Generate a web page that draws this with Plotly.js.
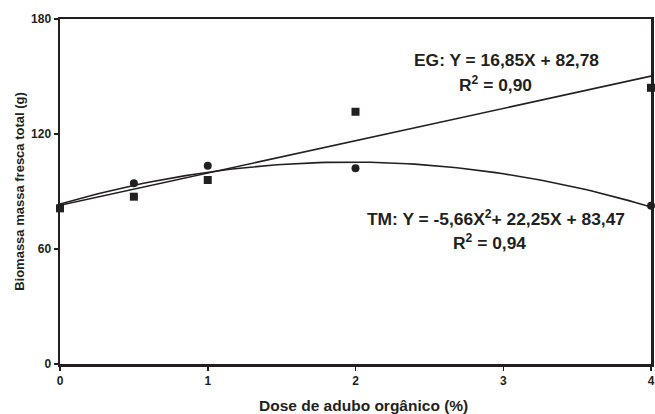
<!DOCTYPE html>
<html>
<head>
<meta charset="utf-8">
<script src="https://cdn.plot.ly/plotly-3.0.1.min.js"></script>
<style>html,body{margin:0;padding:0;background:#fff;}#chart{width:655px;height:414px;}</style>
</head>
<body>
<div id="chart"></div>
<script>
const doses = [0, 0.5, 1, 2, 4];
const egValues = [81.2, 87.3, 96.0, 131.6, 144.1];
const tmValues = [81.5, 94.3, 103.4, 102.1, 82.6];
const egCoef = [82.78, 16.85];          // Y = a + bX
const tmCoef = [83.47, 22.25, -5.66];   // Y = a + bX + cX^2
const xTicks = [0, 1, 2, 3, 4];
const yTicks = [0, 60, 120, 180];

const fitX = [];
for (let i = 0; i <= 80; i++) fitX.push(i * 4 / 80);
const egFit = fitX.map(x => egCoef[0] + egCoef[1] * x);
const tmFit = fitX.map(x => tmCoef[0] + tmCoef[1] * x + tmCoef[2] * x * x);

const ink = '#231f20';
const fnt = 'Liberation Sans, Arial, sans-serif';

const traces = [
  {x: fitX, y: egFit, mode: 'lines', line: {color: ink, width: 1.6}, hoverinfo: 'skip'},
  {x: fitX, y: tmFit, mode: 'lines', line: {color: ink, width: 1.6}, hoverinfo: 'skip'},
  {x: doses, y: tmValues, mode: 'markers', marker: {symbol: 'circle', size: 8, color: ink}, cliponaxis: false},
  {x: doses, y: egValues, mode: 'markers', marker: {symbol: 'square', size: 8, color: ink}, cliponaxis: false}
];

const layout = {
  width: 655, height: 414,
  margin: {l: 60, r: 4, t: 19, b: 50},
  paper_bgcolor: '#fff', plot_bgcolor: '#fff',
  showlegend: false,
  font: {family: fnt, color: ink},
  xaxis: {
    range: [0, 4], tickvals: xTicks, ticktext: xTicks.map(String),
    showgrid: false, zeroline: false,
    showline: true, mirror: true, linecolor: ink, linewidth: 2.5,
    ticks: 'outside', ticklen: 4, tickwidth: 1.5, tickcolor: ink,
    tickfont: {family: fnt, size: 12, color: ink, weight: 'bold'}
  },
  yaxis: {
    range: [0, 180], tickvals: yTicks, ticktext: yTicks.map(String),
    showgrid: false, zeroline: false,
    showline: true, mirror: true, linecolor: ink, linewidth: 2.5,
    ticks: 'outside', ticklen: 4, tickwidth: 1.5, tickcolor: ink,
    tickfont: {family: fnt, size: 12, color: ink, weight: 'bold'},
    title: {text: '<b>Biomassa massa fresca total (g)</b>', font: {family: fnt, size: 13, color: ink}, standoff: 4}
  },
  annotations: [
    {x: 0.5127, y: -0.119, xref: 'paper', yref: 'paper', xanchor: 'center', yanchor: 'middle', text: '<b>Dose de adubo orgânico (%)</b>', showarrow: false, font: {family: fnt, size: 15.5, color: ink}},
    {x: 3.02, y: 158.5, xref: 'x', yref: 'y', text: '<b>EG: Y = 16,85X + 82,78</b>', showarrow: false, font: {family: fnt, size: 17.4, color: ink}},
    {x: 2.95, y: 146.0, xref: 'x', yref: 'y', text: '<b>R<sup>2</sup> = 0,90</b>', showarrow: false, font: {family: fnt, size: 17.4, color: ink}},
    {x: 2.95, y: 76.0, xref: 'x', yref: 'y', text: '<b>TM: Y = -5,66X<sup>2</sup>+ 22,25X + 83,47</b>', showarrow: false, font: {family: fnt, size: 17.4, color: ink}},
    {x: 2.91, y: 63.5, xref: 'x', yref: 'y', text: '<b>R<sup>2</sup> = 0,94</b>', showarrow: false, font: {family: fnt, size: 17.4, color: ink}}
  ]
};

Plotly.newPlot('chart', traces, layout, {displayModeBar: false, staticPlot: true});
</script>
</body>
</html>
